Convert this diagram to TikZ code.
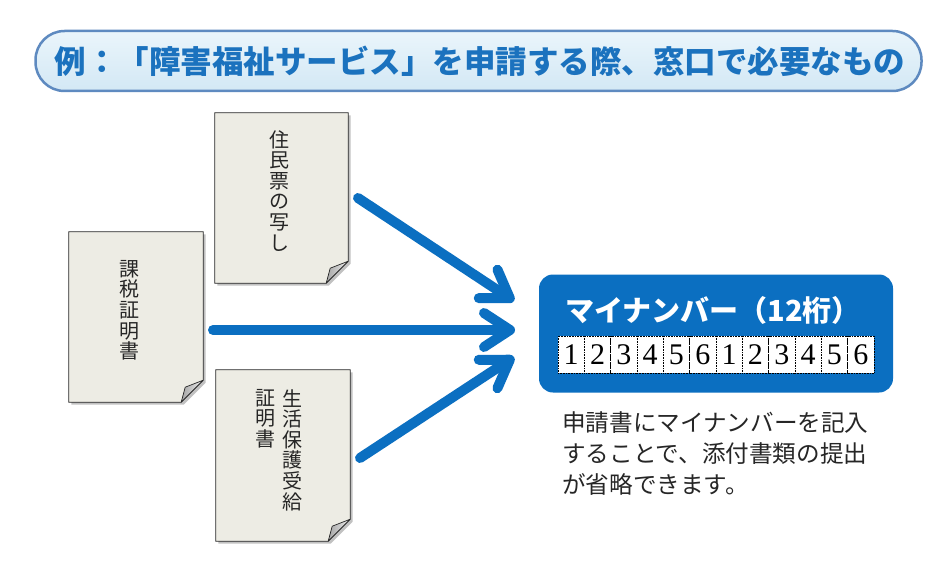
\documentclass[tikz,border=0pt]{standalone}
\usepackage{fontspec}
\newfontfamily\jp{Noto Sans CJK JP}
\newfontfamily\serifdig{Liberation Serif}
\usetikzlibrary{arrows.meta,shadows,calc}
\definecolor{mblue}{HTML}{0B6FC1}
\definecolor{titleblue}{HTML}{1B72BE}
\definecolor{bantop}{HTML}{EAF5FB}
\definecolor{banbot}{HTML}{D3E8F5}
\definecolor{bannerline}{HTML}{5E8AC0}
\definecolor{paperfill}{HTML}{EDECE4}
\tikzset{
  banner/.style={rounded corners=29pt, draw=bannerline, line width=2.5pt, top color=bantop, bottom color=banbot, minimum width=886pt, minimum height=60pt, inner sep=0pt},
  bannertext/.style={text=titleblue, font=\jp\bfseries\fontsize{31.5}{33}\selectfont},
  paperbox/.style={inner sep=0pt, draw=none},
  paperstyle/.style={fill=paperfill, draw=black!85, line width=0.8pt, drop shadow={shadow xshift=2.5pt, shadow yshift=-2.5pt, opacity=0.4, fill=black!60}},
  foldstyle/.style={left color=gray!70, right color=gray!15, draw=black!85, line width=0.7pt, line join=round},
  vtext/.style={align=center, inner sep=0pt, font=\jp\fontsize{20}{20.6}\selectfont, text=black!85},
  mybox/.style={fill=mblue, rounded corners=14pt, minimum width=354pt, minimum height=118pt, inner sep=0pt},
  cell/.style={fill=white, draw=black, densely dotted, line width=0.6pt, minimum width=26.33pt, minimum height=37pt, inner sep=0pt, font=\serifdig\fontsize{30}{30}\selectfont},
  bigarrow/.style={draw=mblue, line width=10pt, line cap=round, -{Straight Barb[length=26pt, width=34pt, round]}},
}
\newcommand{\drawpaper}[1]{%
  \path[paperstyle] (#1.north west) -- (#1.north east) -- ($(#1.south east)+(0,-22)$) -- ($(#1.south east)+(-22,0)$) -- (#1.south west) -- cycle;
  \path[foldstyle] ($(#1.south east)+(0,-22)$) -- ($(#1.south east)+(-18,-15)$) -- ($(#1.south east)+(-22,0)$) -- cycle;
}
\begin{document}
\begin{tikzpicture}[x=1pt,y=-1pt]
\useasboundingbox[fill=white] (0,0) rectangle (945,567);
% banner
\node[banner] (banner) at (478.5,61) {};
\node[bannertext] (title) at (480,61) {例：「障害福祉サービス」を申請する際、窓口で必要なもの};
% papers
\node[paperbox, minimum width=133pt, minimum height=170pt] (p1) at (281.5,198) {};
\node[paperbox, minimum width=134pt, minimum height=170pt] (p2) at (136,317) {};
\node[paperbox, minimum width=134pt, minimum height=171pt] (p3) at (283,455.5) {};
\drawpaper{p1}
\drawpaper{p2}
\drawpaper{p3}
\node[vtext, anchor=north] (t1) at (279,130) {住\\民\\票\\の\\写\\し};
\node[vtext, anchor=north] (t2) at (129,260) {課\\税\\証\\明\\書};
\node[vtext, anchor=north] (t3a) at (292,389) {生\\活\\保\\護\\受\\給};
\node[vtext, anchor=north] (t3b) at (265,389) {証\\明\\書};
% arrows
\coordinate (a1s) at (358,198);
\coordinate (a1e) at (514,301);
\coordinate (a2s) at (213,330);
\coordinate (a2e) at (515,330);
\coordinate (a3s) at (360,458);
\coordinate (a3e) at (514,357);
\draw[bigarrow] (a1s) -- (a1e);
\draw[bigarrow] (a2s) -- (a2e);
\draw[bigarrow] (a3s) -- (a3e);
% my number box
\node[mybox] (mn) at (716,333.5) {};
\node[text=white, font=\jp\bfseries\fontsize{29}{31}\selectfont] (mntitle) at (713,310) {マイナンバー（12桁）};
\foreach \d [count=\k] in {1,2,3,4,5,6,1,2,3,4,5,6}{
  \node[cell] (cell\k) at ({558+26.33*(\k-0.5)},354.5) {\d};
}
% caption
\node[anchor=north west, align=left, inner sep=0pt, font=\jp\fontsize{23.6}{31}\selectfont, text=black!85] (cap) at (562,411) {申請書にマイナンバーを記入\\することで、添付書類の提出\\が省略できます。};
\end{tikzpicture}
\end{document}
